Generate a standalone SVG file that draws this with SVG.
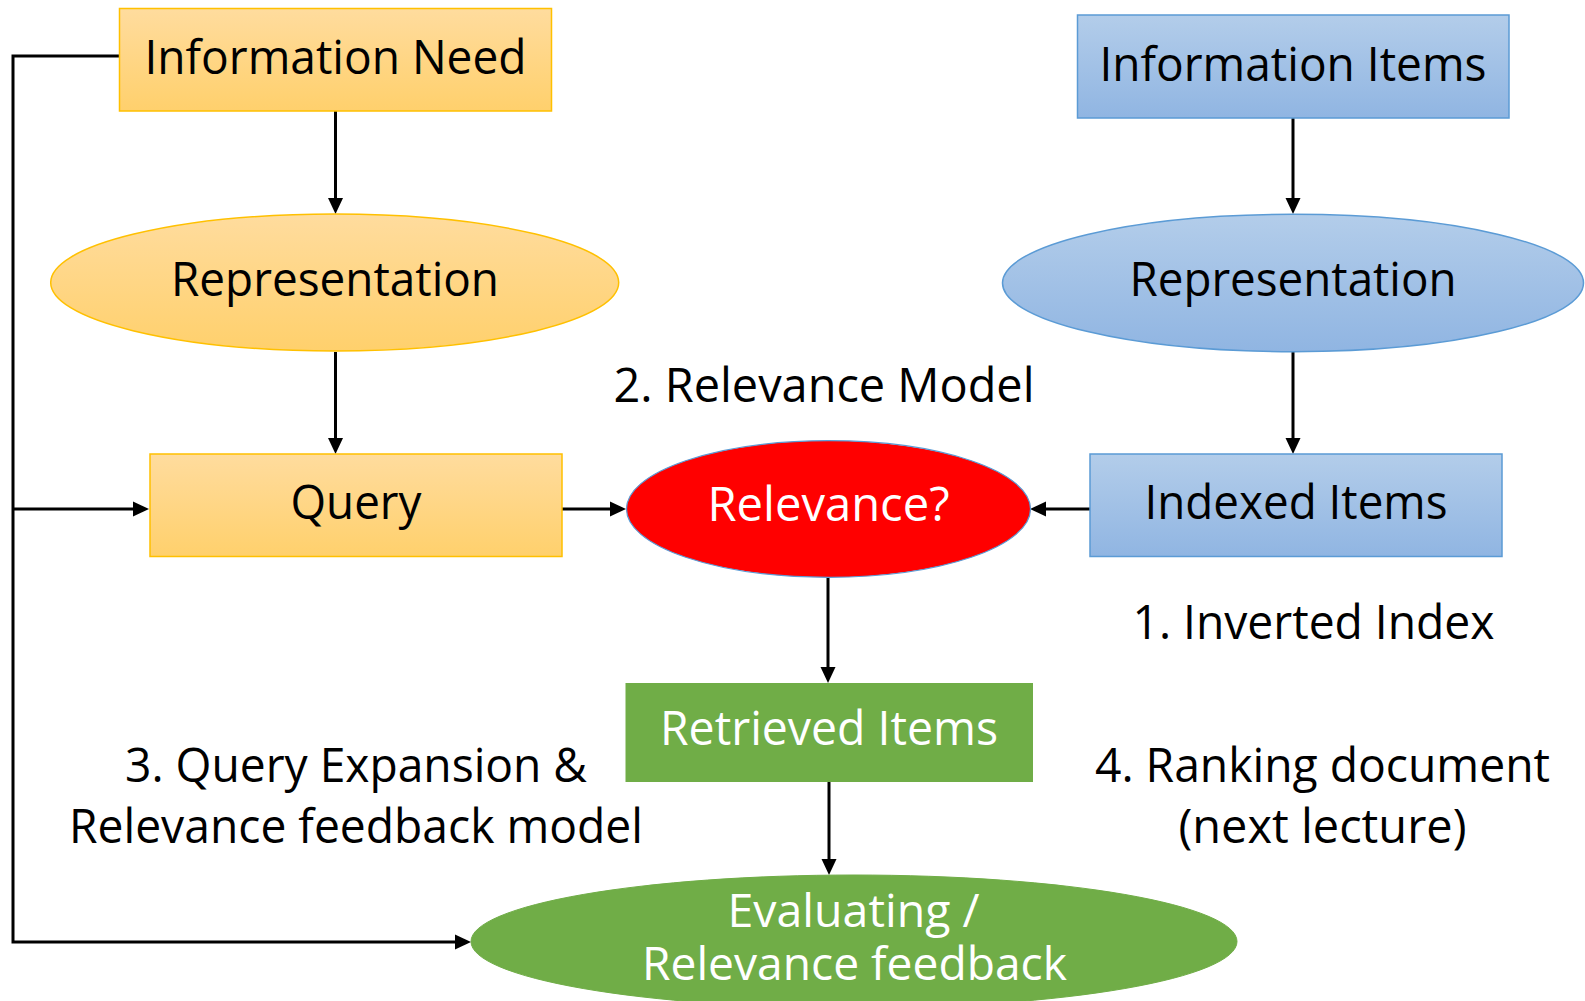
<svg xmlns="http://www.w3.org/2000/svg" width="1585" height="1001" viewBox="0 0 1585 1001">
  <defs>
    <linearGradient id="gOrange" x1="0" y1="0" x2="0" y2="1">
      <stop offset="0" stop-color="#FFDC9E"/>
      <stop offset="1" stop-color="#FFD06C"/>
    </linearGradient>
    <linearGradient id="gBlue" x1="0" y1="0" x2="0" y2="1">
      <stop offset="0" stop-color="#B3CDEA"/>
      <stop offset="1" stop-color="#90B5E2"/>
    </linearGradient>
    <marker id="arrow" markerUnits="userSpaceOnUse" markerWidth="16" markerHeight="15" refX="6" refY="7.5" orient="auto" overflow="visible">
      <path d="M0,0 L16,7.5 L0,15 Z" fill="#000"/>
    </marker>
    <style>
      text { font-family: "Open Sans", "Noto Sans", "DejaVu Sans", sans-serif; font-size: 48px; text-anchor: middle; fill: #000; }
      .light { fill: #FFFFFF; }
      .tight { font-size: 45px; }
      .orange { fill: url(#gOrange); stroke: #FFC000; stroke-width: 1.5; }
      .blue { fill: url(#gBlue); stroke: #5B9BD5; stroke-width: 1.5; }
      .green { fill: #70AD47; stroke: #70AD47; stroke-width: 1; }
      .red { fill: #FF0000; stroke: #5B9BD5; stroke-width: 1.2; }
      .conn { fill: none; stroke: #000; stroke-width: 3; }
    </style>
  </defs>

  <g id="connectors">
    <path class="conn" d="M335.5,111 V204" marker-end="url(#arrow)"/>
    <path class="conn" d="M335.5,352 V444" marker-end="url(#arrow)"/>
    <path class="conn" d="M1293,118 V204" marker-end="url(#arrow)"/>
    <path class="conn" d="M1293,352 V444" marker-end="url(#arrow)"/>
    <path class="conn" d="M562,509 H616" marker-end="url(#arrow)"/>
    <path class="conn" d="M1090,509 H1040" marker-end="url(#arrow)"/>
    <path class="conn" d="M828,577 V673" marker-end="url(#arrow)"/>
    <path class="conn" d="M829,782 V865" marker-end="url(#arrow)"/>
    <path class="conn" d="M119,56 H13 V942 H461" marker-end="url(#arrow)"/>
    <path class="conn" d="M13,509 H139" marker-end="url(#arrow)"/>
  </g>

  <g id="information-need">
    <rect class="orange" x="119.5" y="8.5" width="432" height="102.5"/>
    <text x="335.5" y="73.5" textLength="382" lengthAdjust="spacingAndGlyphs">Information Need</text>
  </g>

  <g id="representation-left">
    <ellipse class="orange" cx="334.7" cy="282.5" rx="284" ry="68.5"/>
    <text x="335" y="296" textLength="328" lengthAdjust="spacingAndGlyphs">Representation</text>
  </g>

  <g id="query">
    <rect class="orange" x="150" y="454" width="412" height="102.5"/>
    <text x="356" y="519" textLength="131" lengthAdjust="spacingAndGlyphs">Query</text>
  </g>

  <g id="information-items">
    <rect class="blue" x="1077.5" y="15" width="431.5" height="103"/>
    <text x="1293" y="80.5" textLength="387" lengthAdjust="spacingAndGlyphs">Information Items</text>
  </g>

  <g id="representation-right">
    <ellipse class="blue" cx="1293" cy="283" rx="290.5" ry="68.7"/>
    <text x="1293" y="296" textLength="327" lengthAdjust="spacingAndGlyphs">Representation</text>
  </g>

  <g id="indexed-items">
    <rect class="blue" x="1090" y="454" width="412" height="102.5"/>
    <text x="1296" y="519" textLength="303" lengthAdjust="spacingAndGlyphs">Indexed Items</text>
  </g>

  <g id="relevance">
    <ellipse class="red" cx="828.5" cy="509" rx="202" ry="68.3"/>
    <text class="light" x="828.5" y="521" textLength="242" lengthAdjust="spacingAndGlyphs">Relevance?</text>
  </g>

  <g id="retrieved-items">
    <rect class="green" x="626" y="683.5" width="406.5" height="98"/>
    <text class="light" x="829" y="745" textLength="338" lengthAdjust="spacingAndGlyphs">Retrieved Items</text>
  </g>

  <g id="evaluating">
    <ellipse class="green" cx="854" cy="941.5" rx="383" ry="66.5"/>
    <text class="light tight" x="853.5" y="926.5" textLength="252" lengthAdjust="spacingAndGlyphs">Evaluating /</text>
    <text class="light tight" x="854.5" y="980" textLength="425" lengthAdjust="spacingAndGlyphs">Relevance feedback</text>
  </g>

  <g id="labels">
    <text x="824" y="401.5" textLength="421" lengthAdjust="spacingAndGlyphs">2. Relevance Model</text>
    <text x="1313.5" y="639" textLength="362" lengthAdjust="spacingAndGlyphs">1. Inverted Index</text>
    <text x="356" y="782" textLength="462" lengthAdjust="spacingAndGlyphs">3. Query Expansion &amp;</text>
    <text x="356" y="843" textLength="574" lengthAdjust="spacingAndGlyphs">Relevance feedback model</text>
    <text x="1322.5" y="782" textLength="455" lengthAdjust="spacingAndGlyphs">4. Ranking document</text>
    <text x="1322.5" y="843" textLength="288" lengthAdjust="spacingAndGlyphs">(next lecture)</text>
  </g>
</svg>
